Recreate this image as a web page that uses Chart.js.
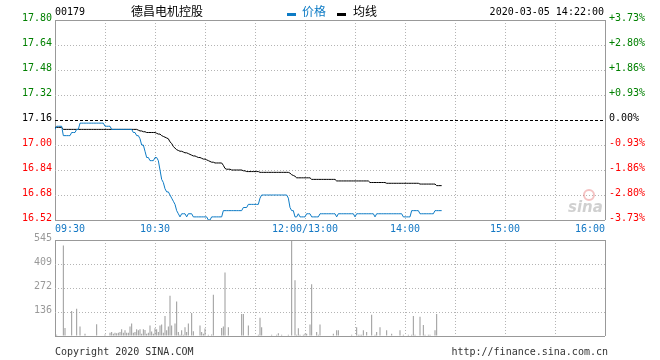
<!DOCTYPE html>
<html><head><meta charset="utf-8">
<script src="https://cdn.jsdelivr.net/npm/chart.js"></script>
<style>
body{margin:0;background:#fff;width:660px;height:360px;overflow:hidden;position:relative;font-family:'DejaVu Sans Mono',monospace;}
.t{position:absolute;font-size:10px;line-height:12px;white-space:nowrap;color:#000;}
.cjk{position:absolute;font-family:'Noto Sans CJK SC',sans-serif;font-size:12px;line-height:14px;white-space:nowrap;}
.sw{position:absolute;height:3px;width:9px;}
#c1{position:absolute;left:0;top:0;}
#c2{position:absolute;left:0;top:230px;}
</style></head>
<body>
<canvas id="c1" width="660" height="240"></canvas>
<canvas id="c2" width="660" height="115"></canvas>
<div class="t" style="left:55px;top:6px">00179</div>
<div class="cjk" style="left:131px;top:4px">德昌电机控股</div>
<div class="sw" style="left:287px;top:13px;background:#0d7bc5"></div>
<div class="cjk" style="left:302px;top:4px;color:#0d7bc5">价格</div>
<div class="sw" style="left:337px;top:13px;background:#000"></div>
<div class="cjk" style="left:353px;top:4px">均线</div>
<div class="t" style="right:56px;top:6px">2020-03-05 14:22:00</div>
<div class="t" style="left:55px;top:346px;color:#333">Copyright 2020 SINA.COM</div>
<div class="t" style="right:52px;top:346px;color:#333">http://finance.sina.com.cn</div>
<script>
const totalMinutes = 330;
const gridMinutes = [0,30,60,90,120,150,180,210,240,270,300,330];
const tickMinutes = [0,60,150,210,270,330];
const tickLabels = ['09:30','10:30','12:00/13:00','14:00','15:00','16:00'];
const prevClose = 17.16;
const priceTicks = [16.52,16.68,16.84,17.00,17.16,17.32,17.48,17.64,17.80];
const pctLabels = ['-3.73%','-2.80%','-1.86%','-0.93%','0.00%','+0.93%','+1.86%','+2.80%','+3.73%'];
const volTicks = [0,136.25,272.5,408.75,545];
const volTickLabels = ['','136','272','409','545'];

const price = [
17.10,17.12,17.12,17.12,17.12,17.06,17.06,17.06,17.06,17.06,
17.08,17.08,17.08,17.10,17.10,17.14,17.14,17.14,17.14,17.14,
17.14,17.14,17.14,17.14,17.14,17.14,17.14,17.14,17.14,17.14,
17.12,17.12,17.12,17.12,17.10,17.10,17.10,17.10,17.10,17.10,
17.10,17.10,17.10,17.10,17.10,17.10,17.10,17.08,17.08,17.06,
17.06,17.04,17.00,17.00,16.96,16.92,16.92,16.90,16.90,16.90,
16.92,16.92,16.90,16.84,16.78,16.76,16.72,16.70,16.70,16.68,
16.66,16.64,16.62,16.58,16.56,16.54,16.56,16.56,16.56,16.54,
16.56,16.56,16.56,16.54,16.54,16.54,16.54,16.54,16.54,16.54,
16.54,16.54,16.52,16.52,16.54,16.54,16.54,16.54,16.54,16.54,
16.54,16.58,16.58,16.58,16.58,16.58,16.58,16.58,16.58,16.58,
16.58,16.58,16.58,16.60,16.60,16.60,16.62,16.62,16.62,16.62,
16.62,16.62,16.62,16.66,16.68,16.68,16.68,16.68,16.68,16.68,
16.68,16.68,16.68,16.68,16.68,16.68,16.68,16.68,16.68,16.68,
16.66,16.60,16.58,16.58,16.54,16.54,16.56,16.54,16.54,16.54,
16.54,16.56,16.56,16.56,16.54,16.54,16.54,16.54,16.54,16.56,
16.56,16.56,16.56,16.56,16.56,16.56,16.56,16.56,16.56,16.54,
16.56,16.56,16.56,16.56,16.56,16.56,16.56,16.56,16.56,16.56,
16.54,16.56,16.56,16.56,16.56,16.56,16.56,16.56,16.56,16.56,
16.56,16.56,16.54,16.56,16.56,16.56,16.56,16.56,16.56,16.56,
16.56,16.56,16.56,16.56,16.56,16.56,16.56,16.56,16.56,16.54,
16.54,16.54,16.54,16.54,16.58,16.58,16.58,16.58,16.58,16.56,
16.56,16.56,16.56,16.56,16.56,16.56,16.56,16.56,16.58,16.58,
16.58,16.58,16.58
];

const avgPrice = [
17.113,17.113,17.113,17.113,17.113,17.10,17.10,17.10,17.10,17.10,
17.10,17.10,17.10,17.10,17.10,17.10,17.10,17.10,17.10,17.10,
17.10,17.10,17.10,17.10,17.10,17.10,17.10,17.10,17.10,17.10,
17.10,17.10,17.10,17.10,17.10,17.10,17.10,17.10,17.10,17.10,
17.10,17.10,17.10,17.10,17.10,17.10,17.10,17.10,17.10,17.10,
17.095,17.09,17.09,17.085,17.085,17.08,17.08,17.08,17.08,17.08,
17.08,17.075,17.07,17.07,17.06,17.055,17.05,17.045,17.04,17.02,
17.01,16.99,16.98,16.97,16.965,16.96,16.96,16.955,16.95,16.95,
16.945,16.94,16.935,16.93,16.93,16.925,16.92,16.92,16.915,16.91,
16.91,16.905,16.90,16.895,16.89,16.89,16.885,16.885,16.885,16.885,
16.885,16.87,16.85,16.845,16.845,16.845,16.84,16.84,16.84,16.84,
16.84,16.84,16.84,16.835,16.835,16.83,16.83,16.83,16.83,16.83,
16.83,16.83,16.83,16.825,16.825,16.825,16.825,16.825,16.825,16.825,
16.825,16.825,16.825,16.825,16.825,16.825,16.825,16.825,16.825,16.825,
16.825,16.82,16.81,16.805,16.80,16.79,16.79,16.79,16.79,16.79,
16.79,16.79,16.79,16.79,16.78,16.78,16.78,16.78,16.78,16.78,
16.78,16.78,16.78,16.78,16.78,16.78,16.78,16.78,16.78,16.77,
16.77,16.77,16.77,16.77,16.77,16.77,16.77,16.77,16.77,16.77,
16.77,16.77,16.77,16.77,16.77,16.77,16.77,16.77,16.77,16.76,
16.76,16.76,16.76,16.76,16.76,16.76,16.76,16.76,16.76,16.755,
16.755,16.755,16.755,16.755,16.755,16.755,16.755,16.755,16.755,16.755,
16.755,16.755,16.755,16.755,16.755,16.755,16.755,16.755,16.755,16.75,
16.75,16.75,16.75,16.75,16.75,16.75,16.75,16.75,16.75,16.74,
16.74,16.74,16.74
];

const volMinute = [1,5,6,10,13,15,18,25,30,33,34,35,36,37,38,39,40,41,42,43,44,45,46,47,48,49,50,51,52,53,54,55,56,57,58,59,60,61,62,63,64,65,66,67,68,69,70,72,73,74,75,76,77,78,79,80,82,83,87,88,89,90,92,94,95,100,101,102,104,112,113,116,122,123,124,130,133,134,136,140,142,144,145,146,147,149,150,151,153,154,157,158,159,167,169,170,178,181,182,183,184,185,187,190,192,193,195,199,202,207,209,212,214,215,216,219,221,222,224,225,228,229];
const volValue  = [7,514,45,142,154,54,13,67,9,18,22,13,18,15,18,22,38,18,33,18,18,54,71,18,22,38,33,38,13,38,34,13,18,60,25,13,44,38,22,60,65,18,114,33,54,229,60,71,196,22,7,33,7,49,22,71,131,27,60,22,13,42,7,9,234,45,54,360,49,125,125,60,7,104,49,7,7,16,7,7,545,316,7,44,7,7,13,13,65,294,22,7,65,13,33,33,7,49,7,7,7,33,22,120,7,22,49,33,13,33,7,7,7,114,7,109,62,7,7,7,33,125];

const GREEN = '#008000', RED = '#ff0000', BLUE = '#0d7bc5';
const FRAME = '#999999', GRID = '#b4b4b4';
const monoFont = {family: "'DejaVu Sans Mono', monospace", size: 10};

function isEdge(v, lo, hi){ return Math.abs(v-lo) < 1e-6 || Math.abs(v-hi) < 1e-6; }

const xScaleBase = (showLabels, height) => ({
  type: 'linear', min: 0, max: totalMinutes, offset: false,
  afterBuildTicks: s => { s.ticks = gridMinutes.map(v => ({value: v})); },
  afterFit: s => { s.height = height; },
  grid: {
    offset: false, drawTicks: false,
    color: c => isEdge(c.tick.value, 0, totalMinutes) ? FRAME : GRID,
    lineWidth: 1
  },
  border: { display: false, dash: c => (c.tick && !isEdge(c.tick.value, 0, totalMinutes)) ? [1,2] : [] },
  ticks: {
    display: showLabels, autoSkip: false, maxRotation: 0, padding: 3, align: 'inner',
    color: '#1478c4', font: monoFont,
    callback: v => { const i = tickMinutes.indexOf(v); return i >= 0 ? tickLabels[i] : ''; }
  }
});

const watermark = {
  id: 'watermark',
  beforeDatasetsDraw(chart) {
    const ctx = chart.ctx;
    ctx.save();
    ctx.strokeStyle = 'rgba(230,120,120,0.45)';
    ctx.lineWidth = 2;
    ctx.beginPath(); ctx.arc(589, 195, 5, 0, Math.PI*2); ctx.stroke();
    ctx.fillStyle = 'rgba(150,150,150,0.45)';
    ctx.font = "italic bold 15px 'DejaVu Sans', sans-serif";
    ctx.fillText('sina', 568, 212);
    ctx.restore();
  }
};

new Chart(document.getElementById('c1'), {
  type: 'line',
  data: {
    datasets: [
      { label: '价格', data: price.map((v,i)=>({x:i,y:v})), borderColor: BLUE, borderWidth: 1, pointRadius: 0, tension: 0, fill: false },
      { label: '均线', data: avgPrice.map((v,i)=>({x:i,y:v})), borderColor: '#000', borderWidth: 1, pointRadius: 0, tension: 0, fill: false }
    ]
  },
  options: {
    responsive: false, animation: false, devicePixelRatio: 1,
    layout: { padding: { top: 20, left: 0, right: 0, bottom: 0 } },
    plugins: { legend: { display: false }, tooltip: { enabled: false } },
    scales: {
      x: xScaleBase(true, 20),
      y: {
        type: 'linear', position: 'left', min: 16.52, max: 17.80,
        afterBuildTicks: s => { s.ticks = priceTicks.map(v => ({value: v})); },
        afterFit: s => { s.width = 55; },
        grid: {
          drawTicks: false, lineWidth: 1,
          color: c => Math.abs(c.tick.value - prevClose) < 1e-6 ? '#000' : (isEdge(c.tick.value, 16.52, 17.80) ? FRAME : GRID)
        },
        border: { display: false, dash: c => {
          if (!c.tick) return [];
          if (Math.abs(c.tick.value - prevClose) < 1e-6) return [3,2];
          return isEdge(c.tick.value, 16.52, 17.80) ? [] : [1,2];
        }},
        ticks: {
          padding: 3, labelOffset: -2, font: monoFont, autoSkip: false,
          color: c => c.tick.value > prevClose + 1e-6 ? GREEN : (c.tick.value < prevClose - 1e-6 ? RED : '#000'),
          callback: v => v.toFixed(2)
        }
      },
      yr: {
        type: 'linear', position: 'right', min: 16.52, max: 17.80,
        afterBuildTicks: s => { s.ticks = priceTicks.map(v => ({value: v})); },
        afterFit: s => { s.width = 55; },
        grid: { display: false, drawTicks: false },
        border: { display: false },
        ticks: {
          padding: 4, labelOffset: -2, font: monoFont, autoSkip: false,
          color: c => c.tick.value > prevClose + 1e-6 ? GREEN : (c.tick.value < prevClose - 1e-6 ? RED : '#000'),
          callback: v => pctLabels[priceTicks.findIndex(p => Math.abs(p - v) < 1e-6)]
        }
      }
    }
  },
  plugins: [watermark]
});

new Chart(document.getElementById('c2'), {
  type: 'bar',
  data: {
    datasets: [
      { label: '成交量', data: volMinute.map((m,i)=>({x:m,y:volValue[i]})), backgroundColor: '#999999', barThickness: 1, grouped: false, borderWidth: 0, inflateAmount: 0 }
    ]
  },
  options: {
    responsive: false, animation: false, devicePixelRatio: 1,
    layout: { padding: { top: 10, left: 0, right: 55, bottom: 0 } },
    plugins: { legend: { display: false }, tooltip: { enabled: false } },
    scales: {
      x: xScaleBase(false, 5),
      y: {
        type: 'linear', position: 'left', min: 0, max: 545,
        afterBuildTicks: s => { s.ticks = volTicks.map(v => ({value: v})); },
        afterFit: s => { s.width = 55; },
        grid: {
          drawTicks: false, lineWidth: 1,
          color: c => isEdge(c.tick.value, 0, 545) ? FRAME : GRID
        },
        border: { display: false, dash: c => (c.tick && !isEdge(c.tick.value, 0, 545)) ? [1,2] : [] },
        ticks: {
          padding: 3, labelOffset: -2, font: monoFont, autoSkip: false, color: '#999999',
          callback: v => volTickLabels[volTicks.findIndex(t => Math.abs(t - v) < 1e-6)]
        }
      }
    }
  }
});
</script>
</body></html>
